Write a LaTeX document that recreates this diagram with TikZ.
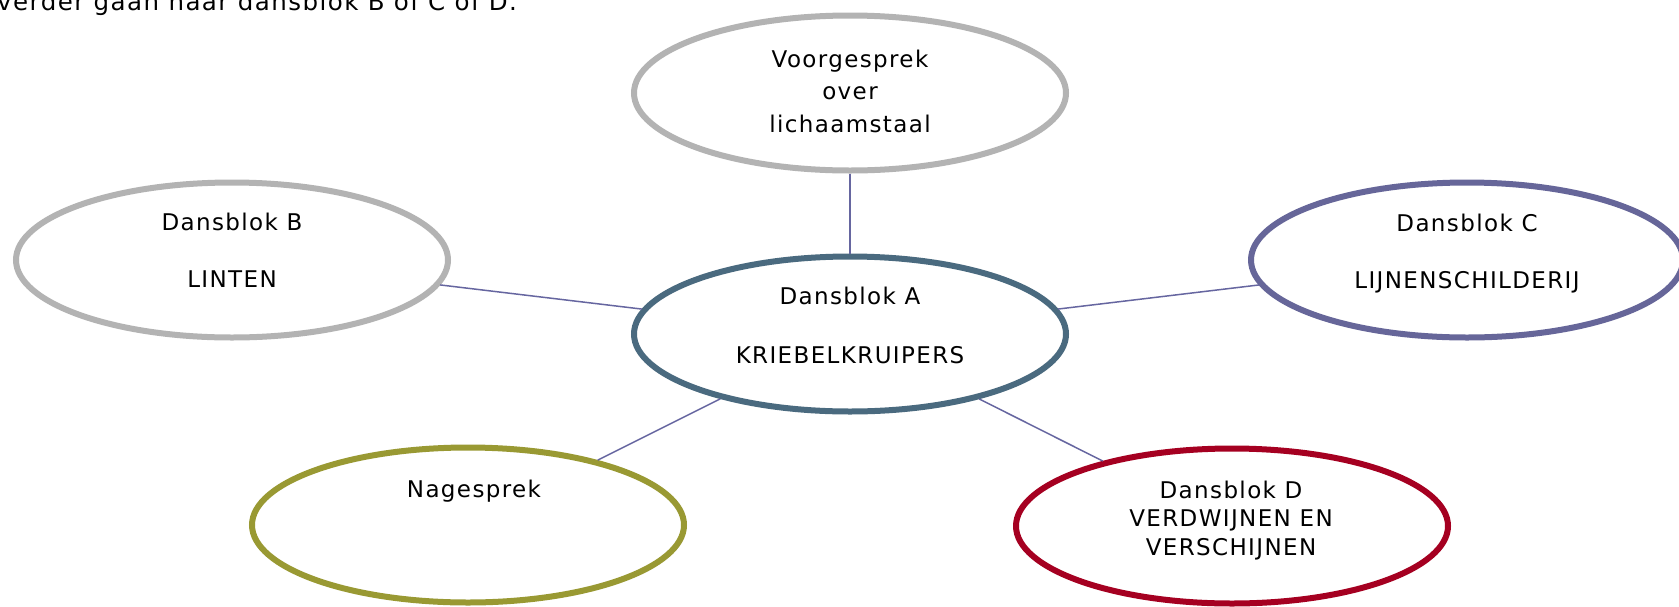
\documentclass[tikz,border=0pt]{standalone}
\usepackage{fontspec}
\setmainfont{DejaVu Sans}[LetterSpace=6]
\usetikzlibrary{shapes.geometric}
\definecolor{greyc}{RGB}{179,179,179}
\definecolor{bluec}{RGB}{74,106,127}
\definecolor{purplec}{RGB}{102,102,153}
\definecolor{redc}{RGB}{165,0,33}
\definecolor{olivec}{RGB}{153,153,51}
\definecolor{linkc}{RGB}{102,102,160}
\begin{document}
\begin{tikzpicture}[x=1pt,y=-1pt,
  blob/.style={ellipse, draw=#1, line width=6pt, minimum width=432pt, minimum height=155pt, inner sep=0pt},
  txt/.style={font=\fontsize{23}{28.4}\selectfont, align=center, inner sep=0pt, anchor=base},
  link/.style={draw=linkc, line width=1.5pt}]
\useasboundingbox (0,0) rectangle (1679,606);
\clip (0,0) rectangle (1679,606);
\fill[white] (0,0) rectangle (1679,606);

\node[txt, anchor=base west, font=\fontsize{24.5}{29}\selectfont] (intro) at (-3,10) {verder gaan naar dansblok B of C of D.};

\node[blob=greyc] (pre) at (850,93) {};
\node[blob=bluec] (a) at (850,334) {};
\node[blob=greyc] (b) at (232,260) {};
\node[blob=purplec] (c) at (1467,260) {};
\node[blob=redc] (d) at (1232,526) {};
\node[blob=olivec] (n) at (468,525) {};

\node[txt, font=\fontsize{23}{32.5}\selectfont] (pret) at (850,132) {Voorgesprek\\over\\lichaamstaal};
\node[txt] (at) at (850,363) {Dansblok A\\[30.6pt]KRIEBELKRUIPERS};
\node[txt] (bt) at (232,287) {Dansblok B\\[28.2pt]LINTEN};
\node[txt] (ct) at (1467,288) {Dansblok C\\[28.6pt]LIJNENSCHILDERIJ};
\node[txt] (dt) at (1231,555) {Dansblok D\\VERDWIJNEN EN\\VERSCHIJNEN};
\node[txt] (nt) at (474,497) {Nagesprek};

\draw[link] (pre) -- (a);
\draw[link] (a) -- (b);
\draw[link] (a) -- (c);
\draw[link] (a) -- (d);
\draw[link] (a) -- (n);
\end{tikzpicture}
\end{document}
